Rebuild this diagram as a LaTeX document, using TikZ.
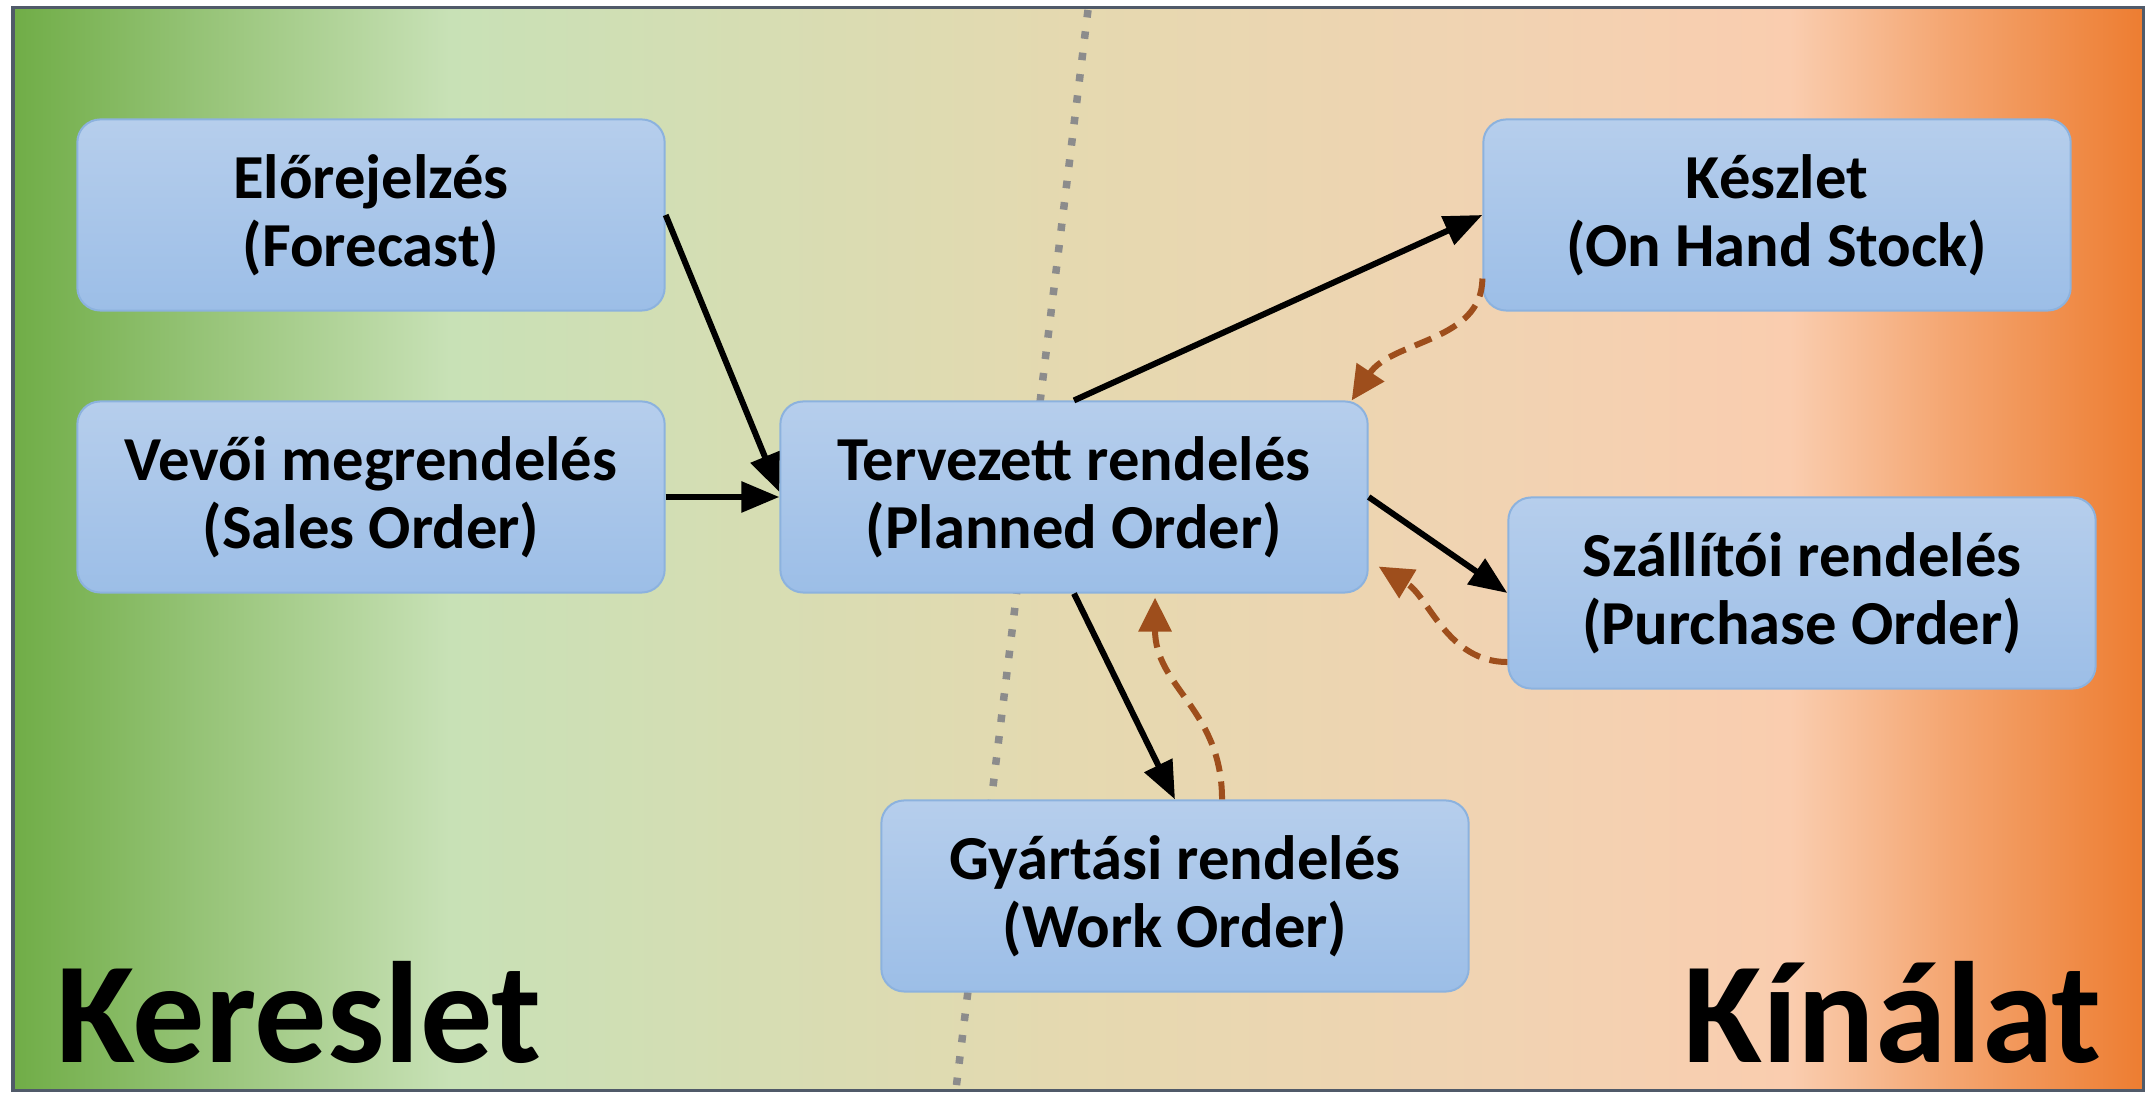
\documentclass[tikz,border=0pt]{standalone}
\usepackage{fontspec}
\setmainfont{Carlito}
\usepackage{tikz}
\usetikzlibrary{arrows.meta}
\usepackage{xcolor}

\definecolor{bggreen}{RGB}{112,173,71}
\definecolor{bglight}{RGB}{200,225,182}
\definecolor{bgkhaki}{RGB}{229,217,176}
\definecolor{bgsand}{RGB}{241,211,178}
\definecolor{bgpeach}{RGB}{250,205,175}
\definecolor{bgapricot}{RGB}{244,165,112}
\definecolor{bgorange}{RGB}{237,125,49}
\definecolor{boxtop}{RGB}{182,206,236}
\definecolor{boxbottom}{RGB}{156,190,231}
\definecolor{boxedge}{RGB}{140,178,222}
\definecolor{fbbrown}{RGB}{158,78,28}
\definecolor{framegray}{RGB}{80,90,105}
\definecolor{dividergray}{RGB}{140,140,140}

% demand -> supply background
\pgfdeclarehorizontalshading{demandsupply}{100bp}{color(0bp)=(bggreen); color(25bp)=(bggreen); color(35.25bp)=(bglight); color(49.8bp)=(bgkhaki); color(59.9bp)=(bgsand); color(66.7bp)=(bgpeach); color(70.5bp)=(bgapricot); color(75bp)=(bgorange); color(100bp)=(bgorange)}

\tikzset{
	order/.style={
		draw=boxedge, line width=0.02cm, rounded corners=0.23cm,
		top color=boxtop, bottom color=boxbottom,
		minimum width=5.87cm, minimum height=1.91cm, align=center,
		font=\fontsize{17.8}{19.3}\selectfont\bfseries
	},
	flow/.style={line width=0.06cm, -{Triangle[length=0.38cm,width=0.3cm]}},
	feedback/.style={draw=fbbrown, line width=0.06cm, dash pattern=on 0.18cm off 0.1cm,
		-{Triangle[length=0.34cm,width=0.32cm]}},
	divider/.style={draw=dividergray, line width=0.075cm, dash pattern=on 0.075cm off 0.14cm},
	side/.style={font=\fontsize{41}{41}\selectfont\bfseries}
}

\begin{document}
\begin{tikzpicture}[x=0.01cm, y=-0.01cm]
	
	\useasboundingbox (0, 0) rectangle (2151, 1101);
	\shade[shading=demandsupply] (13, 8) rectangle (2143, 1091);
	\draw[line width=0.03cm, framegray] (13, 8) rectangle (2143, 1091);
	\draw[divider] (1088, 10) -- (956, 1089);
	
	\node[order] (forecast) at (371, 215) {Előrejelzés\\(Forecast)};
	\node[order] (sales) at (371, 497) {Vevői megrendelés\\(Sales Order)};
	\node[order] (planned) at (1074, 497) {Tervezett rendelés\\(Planned Order)};
	\node[order] (stock) at (1777, 215) {Készlet\\(On Hand Stock)};
	\node[order] (purchase) at (1802, 593) {Szállítói rendelés\\(Purchase Order)};
	\node[order] (work) at (1175, 896) {Gyártási rendelés\\(Work Order)};
	
	\draw[flow] (forecast.east) -- ([yshift=0.05cm]planned.west);
	\draw[flow] (sales.east) -- (planned.west);
	\draw[flow] (planned.north) -- (stock.west);
	\draw[flow] (planned.east) -- (purchase.west);
	\draw[flow] (planned.south) -- (work.north);
	
	\draw[feedback] ([yshift=0.33cm]stock.south west) .. controls +(0, 63) and +(40, -60) .. ([xshift=-0.17cm]planned.north east);
	\draw[feedback] ([yshift=-0.69cm]purchase.west) .. controls +(-60, 0) and +(50, 30) .. ([xshift=0.1cm, yshift=0.27cm]planned.south east);
	\draw[feedback] ([xshift=0.47cm]work.north) .. controls +(0, -90) and +(0, 90) .. ([xshift=0.81cm, yshift=-0.04cm]planned.south);
	
	\node[side, anchor=base west] (demand) at (44, 1063) {Kereslet};
	\node[side, anchor=base east] (supply) at (2114, 1063) {Kínálat};

\end{tikzpicture}
\end{document}
